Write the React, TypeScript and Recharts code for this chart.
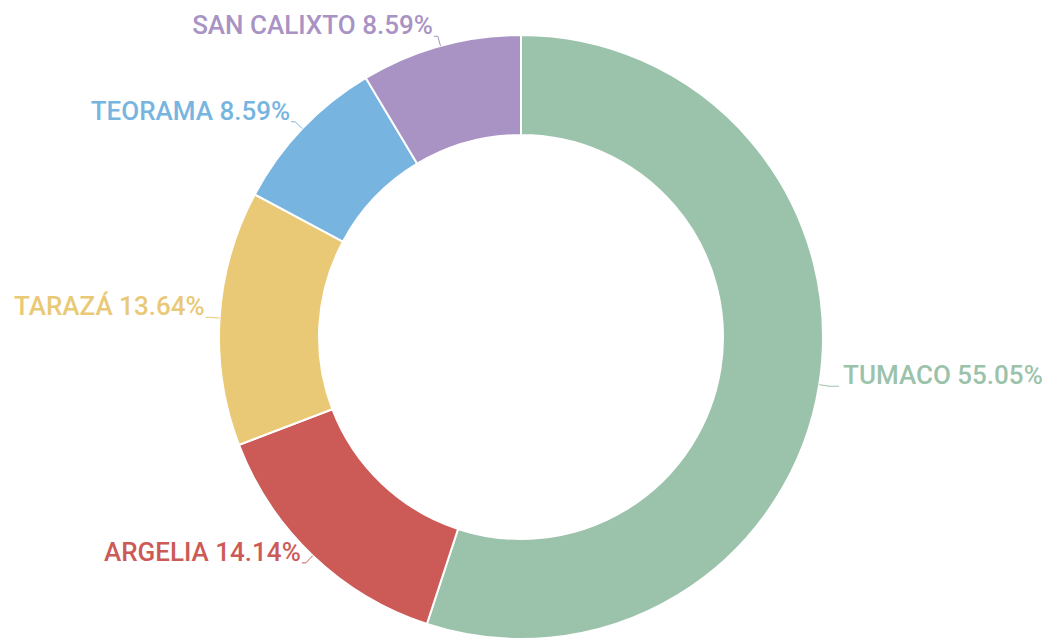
import { PieChart, Pie, Cell } from "recharts";

const names = ["TUMACO", "ARGELIA", "TARAZÁ", "TEORAMA", "SAN CALIXTO"];
const shares = [55.05, 14.14, 13.64, 8.59, 8.59];
const colors = ["#9BC2AA", "#CC5B57", "#E9C975", "#77B5E0", "#A893C4"];

const data = names.map((name, i) => ({ name, value: shares[i] }));

const RADIAN = Math.PI / 180;

function renderLabel(props: any) {
  const { cx, cy, midAngle, outerRadius, index, value, name } = props;
  const cos = Math.cos(-midAngle * RADIAN);
  const sin = Math.sin(-midAngle * RADIAN);
  const x0 = cx + outerRadius * cos;
  const y0 = cy + outerRadius * sin;
  const x1 = cx + (outerRadius + 10) * cos;
  const y1 = cy + (outerRadius + 10) * sin;
  const right = cos >= 0;
  const x2 = x1 + (right ? 10 : -4);
  const color = colors[index];
  return (
    <g>
      <polyline
        points={`${x0},${y0} ${x1},${y1} ${x2},${y1}`}
        fill="none"
        stroke={color}
        strokeWidth={1}
      />
      <text
        x={x2 + (right ? 4 : -1)}
        y={y1 - 2}
        fill={color}
        textAnchor={right ? "start" : "end"}
        fontSize={26}
        fontWeight={500}
        fontFamily="Roboto, sans-serif"
      >
        {`${name} ${value.toFixed(2)}%`}
      </text>
    </g>
  );
}

export default function App() {
  return (
    <div style={{ position: "absolute", left: 0, top: 0, background: "#fff" }}>
      <PieChart width={1042} height={639} margin={{ top: 0, right: 0, bottom: 0, left: 0 }}>
        <Pie
          data={data}
          dataKey="value"
          nameKey="name"
          cx={521}
          cy={337}
          innerRadius={202}
          outerRadius={302}
          startAngle={90}
          endAngle={-270}
          stroke="#fff"
          strokeWidth={2}
          label={renderLabel}
          labelLine={false}
          isAnimationActive={false}
        >
          {data.map((d, i) => (
            <Cell key={d.name} fill={colors[i]} />
          ))}
        </Pie>
      </PieChart>
    </div>
  );
}
